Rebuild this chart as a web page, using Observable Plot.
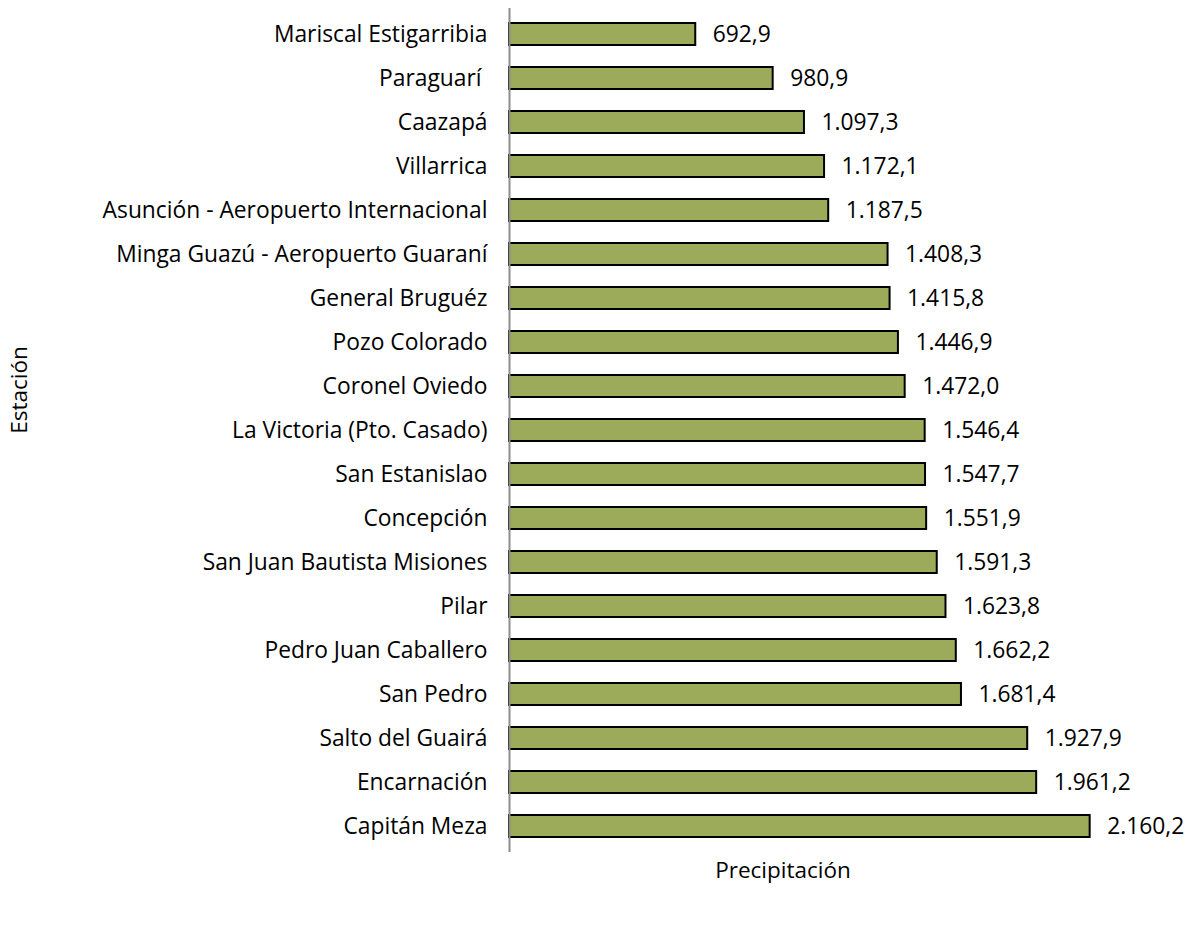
<!DOCTYPE html>
<html>
<head>
<meta charset="utf-8">
<script src="https://cdn.jsdelivr.net/npm/d3@7"></script>
<script src="https://cdn.jsdelivr.net/npm/@observablehq/plot@0.6"></script>
<style>
  body { margin: 0; background: #fff; }
  #wrap { position: relative; width: 1191px; height: 937px; font-family: "Open Sans", sans-serif; }
  .title { position: absolute; font-size: 22.5px; color: #000; }
</style>
</head>
<body>
<div id="wrap">
  <div id="chart"></div>
  <div class="title" style="left:783px; top:869px; transform:translate(-50%,-50%); white-space:nowrap;">Precipitación</div>
  <div class="title" style="left:18px; top:390px; transform:translate(-50%,-50%) rotate(-90deg); white-space:nowrap;">Estación</div>
</div>
<script>
const estaciones = [
  "Mariscal Estigarribia", "Paraguarí ", "Caazapá", "Villarrica",
  "Asunción - Aeropuerto Internacional", "Minga Guazú - Aeropuerto Guaraní",
  "General Bruguéz", "Pozo Colorado", "Coronel Oviedo", "La Victoria (Pto. Casado)",
  "San Estanislao", "Concepción", "San Juan Bautista Misiones", "Pilar",
  "Pedro Juan Caballero", "San Pedro", "Salto del Guairá", "Encarnación", "Capitán Meza"
];
const precipitacion = [
  692.9, 980.9, 1097.3, 1172.1, 1187.5, 1408.3, 1415.8, 1446.9, 1472.0, 1546.4,
  1547.7, 1551.9, 1591.3, 1623.8, 1662.2, 1681.4, 1927.9, 1961.2, 2160.2
];
const data = estaciones.map((e, i) => ({estacion: e, valor: precipitacion[i]}));
const fmt = d3.formatLocale({decimal: ",", thousands: ".", grouping: [3], currency: ["", ""]}).format(",.1f");

const chart = Plot.plot({
  width: 1191,
  height: 937,
  marginLeft: 509,
  marginRight: 10,
  marginTop: 8,
  marginBottom: 85,
  style: {fontFamily: "'Open Sans', sans-serif", fontSize: "22.8px", color: "#000", background: "#fff"},
  x: {domain: [0, 2500], axis: null},
  y: {domain: estaciones, paddingInner: 0.5, paddingOuter: 0.25, label: null, tickSize: 0, tickPadding: 22},
  marks: [
    Plot.barX(data, {x: "valor", y: "estacion", fill: "#9bab5a", stroke: "#000", strokeWidth: 2}),
    Plot.text(data, {x: "valor", y: "estacion", text: d => fmt(d.valor), textAnchor: "start", dx: 17, fill: "#000"}),
    Plot.ruleX([0], {stroke: "#8c8c8c", strokeWidth: 2})
  ]
});
document.getElementById("chart").appendChild(chart);
</script>
</body>
</html>
